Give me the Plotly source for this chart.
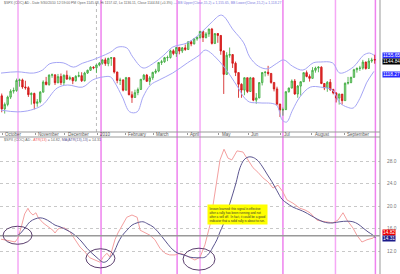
import plotly.graph_objects as go

# ---------------- data ----------------
# candles: each covers two trading days; day index 0 = 2009-09-30
candle_open = [1060.6,1029.9,1040.5,1057.6,1071.5,1073.2,1096.6,1097.9,1081.4,1079.6,
1063.4,1066.1,1042.9,1046.5,1069.3,1093.0,1087.2,1109.3,1109.8,1091.4,
1105.7,1091.5,1108.9,1099.9,1103.3,1096.0,1106.4,1107.9,1096.1,1114.1,
1120.6,1127.8,1126.4,1133.0,1137.1,1145.0,1136.2,1148.5,1150.2,1116.5,
1096.8,1097.5,1073.9,1103.3,1063.1,1056.7,1068.1,1075.5,1099.5,1109.2,
1094.6,1102.9,1115.7,1118.8,1138.7,1140.5,1150.2,1150.5,1166.2,1159.9,
1174.2,1165.7,1173.2,1169.4,1187.4,1182.5,1194.4,1197.3,1211.7,1197.5,
1205.9,1217.3,1183.7,1206.8,1202.3,1165.9,1110.9,1155.8,1157.4,1136.9,
1115.1,1087.7,1074.0,1103.1,1070.7,1102.8,1050.5,1055.7,1091.6,1115.2,
1116.0,1113.2,1092.0,1076.8,1041.2,1027.4,1028.1,1070.3,1078.8,1095.2,
1064.9,1083.5,1093.7,1115.0,1106.1,1101.6,1120.5,1125.8,1127.8,1089.5,
1079.3,1092.5,1075.6,1067.4,1055.3,1064.6,1049.3,1090.1,1091.8,1104.2,
1121.9,1125.1,1125.6,1139.8,1124.8,1142.2,1145.7]
candle_close = [1029.9,1040.5,1057.6,1071.5,1073.2,1096.6,1097.9,1081.4,1079.6,1063.4,
1066.1,1042.9,1046.5,1069.3,1093.0,1087.2,1109.3,1109.8,1091.4,1105.7,
1091.5,1108.9,1099.9,1103.3,1096.0,1106.4,1107.9,1096.1,1114.1,1120.6,
1127.8,1126.4,1133.0,1137.1,1145.0,1136.2,1148.5,1150.2,1116.5,1096.8,
1097.5,1073.9,1103.3,1063.1,1056.7,1068.1,1075.5,1099.5,1109.2,1094.6,
1102.9,1115.7,1118.8,1138.7,1140.5,1150.2,1150.5,1166.2,1159.9,1174.2,
1165.7,1173.2,1169.4,1187.4,1182.5,1194.4,1197.3,1211.7,1197.5,1205.9,
1217.3,1183.7,1206.8,1202.3,1165.9,1110.9,1155.8,1157.4,1136.9,1115.1,
1087.7,1074.0,1103.1,1070.7,1102.8,1050.5,1055.7,1091.6,1115.2,1116.0,
1113.2,1092.0,1076.8,1041.2,1027.4,1028.1,1070.3,1078.8,1095.2,1064.9,
1083.5,1093.7,1115.0,1106.1,1101.6,1120.5,1125.8,1127.8,1089.5,1079.3,
1092.5,1075.6,1067.4,1055.3,1064.6,1049.3,1090.1,1091.8,1104.2,1121.9,
1125.1,1125.6,1139.8,1124.8,1142.2,1144.7,1144.8]
candle_high = [1066,1045,1061,1076,1080,1101,1101,1101,1096,1083,
1069,1068,1053,1072,1097,1105,1111,1113,1111,1112,
1113,1111,1120,1108,1104,1109,1117,1116,1117,1122,
1130,1130,1134,1140,1146,1150,1150,1151,1150,1117,
1103,1100,1105,1104,1071,1075,1080,1100,1112,1112,
1107,1117,1124,1140,1145,1152,1155,1169,1170,1175,
1174,1175,1181,1188,1191,1196,1200,1213,1212,1210,
1218,1220,1207,1208,1202,1167,1163,1174,1158,1141,
1115,1090,1104,1103,1105,1103,1067,1093,1116,1119,
1131,1114,1092,1082,1042,1033,1071,1080,1099,1100,
1086,1095,1116,1120,1111,1128,1129,1130,1130,1090,
1095,1100,1077,1069,1066,1065,1092,1105,1105,1124,
1127,1131,1145,1141,1149,1150,1157]
candle_low = [1022,1019,1036,1053,1066,1070,1082,1077,1075,1058,
1040,1029,1035,1043,1068,1085,1084,1103,1086,1090,
1086,1086,1098,1097,1088,1094,1104,1093,1094,1112,
1119,1123,1114,1130,1134,1131,1130,1131,1113,1090,
1086,1071,1073,1062,1044,1056,1062,1075,1097,1093,
1086,1098,1112,1116,1133,1138,1142,1148,1156,1152,
1158,1161,1166,1168,1177,1181,1190,1195,1187,1195,
1199,1181,1182,1185,1157,1065,1110,1150,1126,1107,
1056,1056,1062,1067,1070,1048,1042,1055,1085,1106,
1108,1089,1071,1038,1011,1014,1028,1068,1078,1063,
1056,1061,1093,1104,1094,1101,1115,1116,1088,1074,
1070,1072,1064,1045,1040,1040,1049,1087,1090,1103,
1115,1119,1122,1122,1125,1138,1136]

bb_upper_day = [0,11,22,28,33,42,49,55,62,67,74,79,85,89,96,103,110,116,126,135,142,149,157,164,168,174,180,186,191,197,204,211,216,224,229,238,245,249,252]
bb_upper = [1114,1117,1114,1121,1136,1138,1128,1137,1145,1152,1163,1175,1173,1152,1126,1137,1156,1175,1185,1208,1232,1250,1215,1185,1152,1130,1124,1136,1145,1130,1121,1138,1140,1138,1114,1128,1156,1161,1156]
bb_lower_day = [0,11,20,28,38,45,55,62,69,74,77,82,87,92,96,101,107,116,126,134,138,148,160,164,168,175,186,190,193,197,202,209,216,224,229,234,238,243,247,252]
bb_lower = [1027,1023,1027,1039,1079,1086,1081,1098,1105,1105,1091,1058,1023,1023,1058,1086,1098,1114,1138,1156,1168,1140,1081,1058,1046,1044,1039,1004,999,1027,1058,1081,1081,1074,1044,1034,1032,1058,1091,1118]

atr_day = [0,3,6,9.5,11.5,14,16,17.6,18.2,19.6,21.6,23.6,25,28.4,31.8,35,36.5,38.5,40,43,46.6,50,53.4,56.8,60,63.5,67,69,71.6,73.6,77,79,81.8,85,88.5,92,94,97.3,100.7,104,107.4,110.8,114,117.6,121,124.3,127.7,131,134.5,137.8,141.2,144.6,148,150.7,153.4,156,159.5,163.5,166.9,170.3,173.6,177,180.4,183.8,187.2,190.5,193.2,197.3,202,205.4,208.8,213.5,216.9,220.3,224.3,227.7,231.1,233.8,237.8,240.5,243.9,247.3,251.4,253]
atr_val = [14.1,14.0,13.8,13.6,14.3,16.6,18.6,19.3,19.6,18.9,18.4,18.8,18.0,17.0,16.3,15.7,15.2,15.9,16.1,16.1,15.4,14.0,12.7,11.8,10.8,10.4,10.0,10.9,11.6,10.9,14.0,15.2,16.6,18.0,18.4,18.0,15.7,15.2,14.8,14.0,12.5,11.6,11.3,11.3,11.6,11.3,10.8,10.4,10.9,13.1,16.6,22.8,28.2,30.1,28.5,28.2,29.8,29.6,28.2,26.8,26.0,25.0,24.3,23.2,23.7,22.5,21.1,20.5,19.6,19.3,18.8,17.5,17.3,17.2,17.0,17.5,18.8,17.5,16.1,14.8,13.6,14.0,14.3,14.8]

ma_day = [2.7,7.4,11.5,16.2,19.6,23,26.4,29.7,33.1,36.5,39.9,44.6,48,51.4,54.7,58.1,61.5,64.9,69,71.6,73.6,76.4,79,81.8,85.1,88.5,91.9,95.9,99.3,102.7,106.1,109.5,112.8,116.2,119.6,123.6,127.7,131.8,134.5,137.8,141.2,143.2,145.9,148,150,152.7,154.7,156.8,158.8,161.5,164.2,166.9,169.6,173,176.4,179.7,183.1,186.5,189.9,193.2,197.3,202,205.4,208.8,213.5,217.6,221,224.3,229,233.8,237.8,241.2,244.6,248,251.4,253]
ma_val = [14.7,14.7,14.8,16.1,17.2,17.7,17.9,17.7,17.2,16.6,16.3,15.7,15.2,14.5,13.6,12.5,11.6,10.8,10.0,10.2,10.8,11.8,13.4,14.7,15.7,16.6,17.0,17.2,16.8,16.3,15.4,14.3,13.2,12.2,11.6,11.3,10.9,10.8,10.8,10.9,11.8,12.7,14.0,15.4,16.6,18.8,20.5,22.3,24.1,26.8,28.2,28.7,28.7,28.2,27.1,25.7,24.3,22.7,21.2,20.5,19.8,19.3,18.9,18.4,17.7,17.2,17.0,17.0,17.2,17.3,17.2,16.8,16.1,15.4,14.8,14.3]

month_day = [1,23,43,65,84,103,126,147,167,189,210,232]
month_label = ["October","November","December","2010","February","March","April","May","Jun","Jul","August","September"]
marker_day = [11.5,67.6,119,134.5,190.5,226,253]
marker_color = ["#f5a8f5","#ee82ee","#ee82ee","#f5a8f5","#ee82ee","#f5a8f5","#ee82ee"]
year_day = 64.5
ref_level = 14.7
circles = [(1.4,21,13.2,16.4),(57.4,77,9.0,12.4),(123,144.6,8.6,12.5)]
note_day, note_level = 139.5, 20.4

bb_up_last, close_last, bb_lo_last = 1155.65, 1144.84, 1118.27
atr_last, ma_last = 14.82, 14.31

# ---------------- figure ----------------
W, H = 400, 274
top0 = 1 - 132 / H
bot1 = 1 - 137 / H
xr = [-0.676, 256.1]
candle_x = [2 * j + 0.5 for j in range(len(candle_close))]

fig = go.Figure()
fig.add_trace(go.Candlestick(
    x=candle_x, open=candle_open, high=candle_high, low=candle_low, close=candle_close,
    xaxis="x", yaxis="y",
    increasing=dict(line=dict(color="#3aa83a", width=0.8), fillcolor="#9fe09f"),
    decreasing=dict(line=dict(color="#d01010", width=0.8), fillcolor="#e03030"),
    whiskerwidth=0, showlegend=False, hoverinfo="skip"))
fig.add_trace(go.Scatter(x=bb_upper_day, y=bb_upper, mode="lines", xaxis="x", yaxis="y",
                         line=dict(color="#a5a5f5", width=1, shape="spline"), showlegend=False))
fig.add_trace(go.Scatter(x=bb_lower_day, y=bb_lower, mode="lines", xaxis="x", yaxis="y",
                         line=dict(color="#a5a5f5", width=1, shape="spline"), showlegend=False))

fig.add_trace(go.Scatter(x=atr_day, y=atr_val, mode="lines", xaxis="x2", yaxis="y2",
                         line=dict(color="#f4a0a0", width=1), showlegend=False))
fig.add_trace(go.Scatter(x=ma_day, y=ma_val, mode="lines", xaxis="x2", yaxis="y2",
                         line=dict(color="#5c5690", width=1, shape="spline"), showlegend=False))

shapes = []
for d, c in zip(marker_day, marker_color):
    shapes.append(dict(type="line", xref="x", yref="paper", x0=d, x1=d, y0=0, y1=1,
                       line=dict(color=c, width=1.5), layer="below"))
shapes.append(dict(type="line", xref="x", yref="paper", x0=year_day, x1=year_day, y0=top0, y1=1,
                   line=dict(color="#bbbbbb", width=1, dash="dot"), layer="below"))
shapes.append(dict(type="line", xref="paper", yref="y2", x0=0, x1=0.95, y0=ref_level, y1=ref_level,
                   line=dict(color="#999999", width=1.5)))
for (a, b, c, d) in circles:
    shapes.append(dict(type="circle", xref="x2", yref="y2", x0=a, x1=b, y0=c, y1=d,
                       line=dict(color="#5b3f6e", width=1)))
for yy in (top0, bot1):
    shapes.append(dict(type="line", xref="paper", yref="paper", x0=0, x1=0.95, y0=yy, y1=yy,
                       line=dict(color="#999999", width=1)))
shapes.append(dict(type="line", xref="paper", yref="paper", x0=0.95, x1=0.95, y0=0, y1=1,
                   line=dict(color="#999999", width=1)))

ann = []
ytxt = 1 - 134.6 / H
for d, t in zip(month_day, month_label):
    ann.append(dict(x=d, xref="x", y=ytxt, yref="paper", text=t, showarrow=False,
                    xanchor="left", yanchor="middle", xshift=1,
                    font=dict(size=4.5, color="#555555", family="Arial")))
ann.append(dict(x=0.004, xref="paper", y=1 - 3 / H, yref="paper", xanchor="left", yanchor="middle",
                showarrow=False, font=dict(size=3.45, color="#666666", family="Arial"),
                text="$SPX (COC) AD - Date 9/30/2010 12:59:00 PM Open 1145.68, Hi 1157.02, Lo 1136.11, Close 1144.84 (+0.3%) "
                     "<span style='color:#8080e0'>— BB Upper(Close,15,2) = 1,155.65, BB Lower(Close,15,2) = 1,118.27</span>"))
ann.append(dict(x=0.004, xref="paper", y=1 - 139.5 / H, yref="paper", xanchor="left", yanchor="middle",
                showarrow=False, font=dict(size=3.6, color="#666666", family="Arial"),
                text="$SPX (COC) AD - <span style='color:#f06060'>ATR(13)</span> = 14.82, "
                     "<span style='color:#5c5690'>MA(ATR(13),13)</span> = 14.31"))
ann.append(dict(x=note_day, xref="x2", y=note_level, yref="y2", xanchor="left", yanchor="top", showarrow=False,
                align="left", bgcolor="#ffff00", borderpad=1.5,
                font=dict(size=3.1, color="#333333", family="Arial"),
                text="lesson learned: this signal is effective<br>after a rally has been running and not<br>"
                     "after a sell off.  In fact, it could be a good<br>indicator that a solid rally is about to run."))

def box(val, yref, bg, fg, shift):
    return dict(x=0.955, xref="paper", y=val, yref=yref, xanchor="left", yanchor="middle",
                showarrow=False, text=f"{val:.2f}", bgcolor=bg, borderpad=0, yshift=shift,
                font=dict(size=4.8, color=fg, family="Arial"))
ann.append(box(bb_up_last, "y", "#2a2aff", "#ffffff", 0))
ann.append(box(close_last, "y", "#000000", "#ffffff", -2))
ann.append(box(bb_lo_last, "y", "#2a2aff", "#ffffff", -3))
ann.append(box(atr_last, "y2", "#ee0000", "#ffffff", 3))
ann.append(box(ma_last, "y2", "#1a1a8a", "#ffffff", 0))

fig.update_layout(
    width=W, height=H, margin=dict(l=0, r=0, t=0, b=0),
    paper_bgcolor="white", plot_bgcolor="white",
    shapes=shapes, annotations=ann, showlegend=False,
    xaxis=dict(domain=[0, 0.95], range=xr, anchor="y", showgrid=False, zeroline=False,
               rangeslider=dict(visible=False), tickvals=month_day, ticks="outside",
               ticklen=2, tickcolor="#999999", showticklabels=False),
    yaxis=dict(domain=[top0, 1], range=[975.7, 1285.5], anchor="x", side="right",
               showgrid=False, zeroline=False, showticklabels=False),
    xaxis2=dict(domain=[0, 0.95], range=xr, anchor="y2", showgrid=False, zeroline=False,
                showticklabels=False),
    yaxis2=dict(domain=[0, bot1], range=[7.91, 32.27], anchor="x2", side="right",
                showgrid=True, gridcolor="#c8c8c8", griddash="dot", gridwidth=1, zeroline=False,
                tickvals=[12, 16, 20, 24, 28], ticktext=["12.0", "16.0", "20.0", "24.0", "28.0"],
                ticks="", ticklabelstandoff=6,
                tickfont=dict(size=4.8, color="#777777", family="Arial")),
)
fig.write_html("out.html")
